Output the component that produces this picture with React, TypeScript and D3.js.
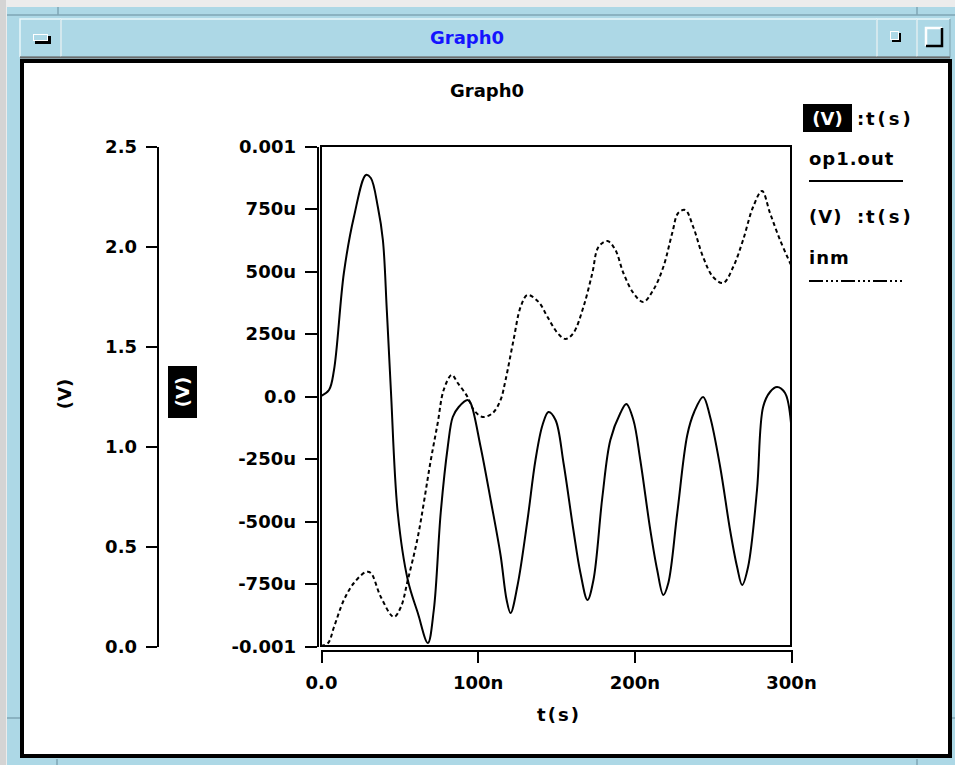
import React, { useEffect, useRef } from 'react';
import * as d3 from 'd3';

// op1.out, time in ns, value in uV (middle axis)
const opTime = [0, 5.1, 8.3, 14.6, 21, 28.7, 31.8, 36.3, 39.5, 42, 44.6, 49, 55.4, 61.8, 68.2, 72, 76.4, 80.9, 84.1, 87.9, 93.6, 95.5, 101.9, 108.3, 114.6, 118.5, 121, 125.5, 131.8, 136.9, 141.4, 145.2, 149.7, 154.8, 161.1, 165.6, 170.1, 173.9, 179.6, 184.7, 191.1, 194.9, 199.4, 203.8, 210.2, 214.6, 218.5, 221.7, 227.4, 233.8, 238.2, 243.9, 248.4, 254.8, 261.1, 265.6, 268.8, 272.6, 278.3, 282.2, 286.6, 291.1, 296.2, 300];
const opValue = [0, 24, 104, 492, 716, 884, 872, 756, 624, 344, 24, -468, -736, -868, -988, -856, -468, -204, -84, -44, -16, -28, -204, -416, -636, -816, -868, -756, -496, -256, -116, -64, -96, -268, -536, -708, -816, -736, -404, -176, -68, -32, -96, -256, -536, -696, -796, -748, -468, -156, -64, -4, -84, -284, -536, -684, -756, -684, -376, -44, 16, 36, 12, -108];

// inm, time in ns, value in V (left axis)
const inmTime = [0, 4.5, 8.3, 14.6, 21, 28.7, 31.8, 38.2, 46.5, 51, 55.4, 61.8, 70.1, 74.5, 78.3, 83.4, 87.3, 93.6, 97.5, 103.2, 109.6, 114.6, 117.8, 122.9, 127.4, 131.8, 138.9, 144.6, 151, 156.1, 161.1, 167.5, 173.2, 177.1, 182.8, 187.9, 193, 199.4, 205.7, 212.1, 218.5, 224.2, 228, 232.5, 237.6, 243.9, 250.3, 256.7, 263.1, 269.4, 275.8, 281.5, 286.6, 293, 300];
const inmValue = [0, 0.015, 0.095, 0.23, 0.315, 0.37, 0.365, 0.245, 0.145, 0.195, 0.33, 0.545, 0.93, 1.115, 1.28, 1.355, 1.315, 1.245, 1.18, 1.145, 1.165, 1.23, 1.33, 1.53, 1.695, 1.755, 1.72, 1.645, 1.565, 1.535, 1.565, 1.695, 1.865, 1.995, 2.025, 1.98, 1.865, 1.765, 1.72, 1.78, 1.895, 2.065, 2.165, 2.18, 2.095, 1.945, 1.845, 1.815, 1.895, 2.03, 2.195, 2.275, 2.165, 2.03, 1.905];

const leftTicks = [0, 0.5, 1.0, 1.5, 2.0, 2.5];
const midTicks = [-1000, -750, -500, -250, 0, 250, 500, 750, 1000];
const midTickLabels = ['-0.001', '-750u', '-500u', '-250u', '0.0', '250u', '500u', '750u', '0.001'];
const xTicks = [0, 100, 200, 300];
const xTickLabels = ['0.0', '100n', '200n', '300n'];

const FONT = '"DejaVu Sans", sans-serif';
const BLUE = '#add8e6';

const Graph = () => {
  const ref = useRef<SVGSVGElement>(null);

  useEffect(() => {
    const svg = d3.select(ref.current);
    svg.selectAll('*').remove();

    // window frame
    svg.append('rect').attr('width', 955).attr('height', 765).attr('fill', '#ececec');
    svg.append('rect').attr('x', 0).attr('width', 6).attr('height', 765).attr('fill', '#d4d4d4');
    svg.append('rect').attr('x', 7).attr('y', 7).attr('width', 948).attr('height', 758).attr('fill', BLUE);
    const frameLines = [
      [7, 15, 955, 15], [58, 7, 58, 15], [917, 7, 917, 15],
      [7, 718, 20, 718], [57, 759, 57, 765], [935, 718, 955, 718], [917, 759, 917, 765],
    ];
    svg.selectAll('line.frame').data(frameLines).enter().append('line')
      .attr('x1', (d) => d[0]).attr('y1', (d) => d[1]).attr('x2', (d) => d[2]).attr('y2', (d) => d[3])
      .attr('stroke', '#7fa6b4').attr('stroke-width', 1.5);

    // title bar bevels
    const bevel = (x: number, y: number, w: number, h: number) => {
      svg.append('path').attr('d', `M${x},${y + h}V${y}H${x + w}`).attr('fill', 'none').attr('stroke', '#e8f6fa').attr('stroke-width', 1.5);
      svg.append('path').attr('d', `M${x + w},${y}V${y + h}H${x}`).attr('fill', 'none').attr('stroke', '#8db3c0').attr('stroke-width', 1.5);
    };
    bevel(20, 19, 41, 38);
    bevel(61, 19, 816, 38);
    bevel(877, 19, 40, 38);
    bevel(917, 19, 33, 38);
    svg.append('line').attr('x1', 20).attr('x2', 950).attr('y1', 57.5).attr('y2', 57.5).attr('stroke', '#6c6c6c').attr('stroke-width', 2);

    // menu button
    svg.append('rect').attr('x', 35).attr('y', 36).attr('width', 16).attr('height', 8).attr('fill', '#000');
    svg.append('rect').attr('x', 33).attr('y', 34).attr('width', 15).attr('height', 7).attr('fill', '#fff');
    svg.append('rect').attr('x', 34).attr('y', 35).attr('width', 13).attr('height', 5).attr('fill', BLUE);
    // iconify button
    svg.append('rect').attr('x', 892).attr('y', 33).attr('width', 9).attr('height', 9).attr('fill', '#000');
    svg.append('rect').attr('x', 890).attr('y', 31).attr('width', 9).attr('height', 9).attr('fill', '#fff');
    svg.append('rect').attr('x', 891).attr('y', 32).attr('width', 7).attr('height', 7).attr('fill', BLUE);
    // maximize button
    svg.append('path').attr('d', 'M926,46V28H942').attr('fill', 'none').attr('stroke', '#fff').attr('stroke-width', 2.5);
    svg.append('path').attr('d', 'M942,28V46H926').attr('fill', 'none').attr('stroke', '#000').attr('stroke-width', 2.5);

    svg.append('text').attr('x', 467).attr('y', 44).attr('text-anchor', 'middle')
      .attr('font-family', FONT).attr('font-weight', 'bold').attr('font-size', 18).attr('fill', '#1414ff')
      .text('Graph0');

    // content area
    svg.append('rect').attr('x', 22).attr('y', 61).attr('width', 928).attr('height', 695)
      .attr('fill', '#fff').attr('stroke', '#000').attr('stroke-width', 4);

    const text = (x: number, y: number, s: string, anchor = 'start', fill = '#000', spacing = 0) =>
      svg.append('text').attr('x', x).attr('y', y).attr('text-anchor', anchor)
        .attr('font-family', FONT).attr('font-weight', 'bold').attr('font-size', 18).attr('fill', fill)
        .attr('letter-spacing', spacing).text(s);

    text(487, 97, 'Graph0', 'middle');

    // scales
    const x = d3.scaleLinear().domain([0, 300]).range([321, 791]);
    const yMid = d3.scaleLinear().domain([-1000, 1000]).range([646, 146]);
    const yLeft = d3.scaleLinear().domain([0, 2.5]).range([646, 146]);

    const styleAxis = (g: any) => {
      g.selectAll('text').attr('font-family', FONT).attr('font-weight', 'bold').attr('font-size', 18).attr('fill', '#000');
      g.selectAll('line,path').attr('stroke', '#000').attr('stroke-width', 2).attr('shape-rendering', 'crispEdges');
    };

    const gLeft = svg.append('g').attr('transform', 'translate(157,0)')
      .call(d3.axisLeft(yLeft).tickValues(leftTicks).tickFormat(d3.format('.1f')).tickSize(11).tickPadding(9).tickSizeOuter(0));
    styleAxis(gLeft);
    gLeft.selectAll('text').attr('dy', '0.36em');

    const gMid = svg.append('g').attr('transform', 'translate(317,0)')
      .call(d3.axisLeft(yMid).tickValues(midTicks).tickFormat((d, i) => midTickLabels[i]).tickSize(12).tickPadding(9).tickSizeOuter(0));
    styleAxis(gMid);
    gMid.selectAll('text').attr('dy', '0.36em');

    const gX = svg.append('g').attr('transform', 'translate(0,650)')
      .call(d3.axisBottom(x).tickValues(xTicks).tickFormat((d, i) => xTickLabels[i]).tickSize(13).tickPadding(13).tickSizeOuter(0));
    styleAxis(gX);

    // plot frame
    svg.append('rect').attr('x', 321).attr('y', 146).attr('width', 470).attr('height', 500)
      .attr('fill', 'none').attr('stroke', '#000').attr('stroke-width', 2).attr('shape-rendering', 'crispEdges');

    // axis titles
    svg.append('text').attr('transform', 'translate(65,394) rotate(-90)').attr('text-anchor', 'middle').attr('dy', '0.36em')
      .attr('font-family', FONT).attr('font-weight', 'bold').attr('font-size', 18).text('(V)');
    svg.append('rect').attr('x', 168).attr('y', 366).attr('width', 29).attr('height', 52).attr('fill', '#000');
    svg.append('text').attr('transform', 'translate(182.5,392) rotate(-90)').attr('text-anchor', 'middle').attr('dy', '0.36em')
      .attr('font-family', FONT).attr('font-weight', 'bold').attr('font-size', 18).attr('fill', '#fff').text('(V)');
    text(559, 721, 't(s)', 'middle', '#000', 2);

    // curves
    svg.append('clipPath').attr('id', 'plotClip').append('rect')
      .attr('x', 321).attr('y', 146).attr('width', 470).attr('height', 500);

    const opLine = d3.line<number>().x((d, i) => x(opTime[i])).y((d) => yMid(d)).curve(d3.curveCatmullRom.alpha(0.5));
    const inmLine = d3.line<number>().x((d, i) => x(inmTime[i])).y((d) => yLeft(d)).curve(d3.curveCatmullRom.alpha(0.5));

    svg.append('path').attr('d', opLine(opValue)).attr('clip-path', 'url(#plotClip)')
      .attr('fill', 'none').attr('stroke', '#000').attr('stroke-width', 2);
    svg.append('path').attr('d', inmLine(inmValue)).attr('clip-path', 'url(#plotClip)')
      .attr('fill', 'none').attr('stroke', '#000').attr('stroke-width', 2).attr('stroke-dasharray', '4,3');

    // legend
    svg.append('rect').attr('x', 803).attr('y', 104).attr('width', 49).attr('height', 28).attr('fill', '#000');
    text(827.5, 125, '(V)', 'middle', '#fff');
    text(857, 125, ':');
    text(866, 125, 't(s)', 'start', '#000', 3);
    text(809, 165, 'op1.out', 'start', '#000', 1);
    svg.append('line').attr('x1', 809).attr('x2', 903).attr('y1', 181).attr('y2', 181).attr('stroke', '#000').attr('stroke-width', 2);
    text(809, 223, '(V)', 'start', '#000', 1);
    text(857, 223, ':');
    text(866, 223, 't(s)', 'start', '#000', 3);
    text(809, 264, 'inm', 'start', '#000', 1);
    svg.append('line').attr('x1', 809).attr('x2', 903).attr('y1', 281).attr('y2', 281).attr('stroke', '#000').attr('stroke-width', 2)
      .attr('stroke-dasharray', '14,3,2,3,2,3,2,3');

    return () => {
      d3.select(ref.current).selectAll('*').remove();
    };
  }, []);

  return <svg ref={ref} width={955} height={765} style={{ position: 'absolute', left: 0, top: 0 }} />;
};

export default function App() {
  return <Graph />;
}
